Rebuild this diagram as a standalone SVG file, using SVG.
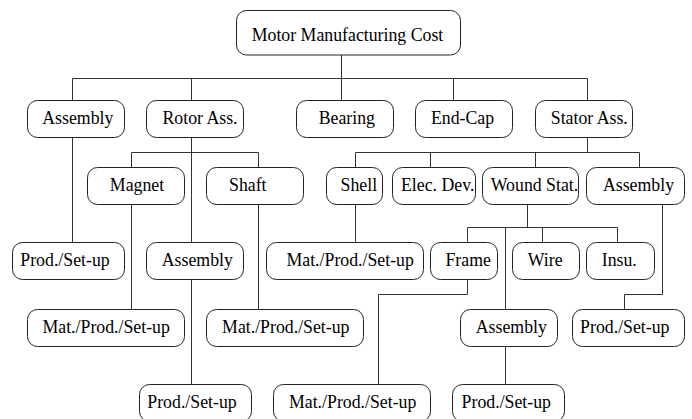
<svg xmlns="http://www.w3.org/2000/svg" width="692" height="419" viewBox="0 0 692 419">
<style>
.n rect{fill:#fff;stroke:#222;stroke-width:1}
.n text{font-family:'Liberation Serif','Times New Roman',Tinos,'DejaVu Serif',serif;font-size:17.8px;fill:#000;text-anchor:middle}
#connectors path{fill:none;stroke:#333;stroke-width:1}
</style>
<rect width="692" height="419" fill="#fff"/>
<g id="connectors">
<path d="M341.5 55 V78.5 M72.5 78.5 H587.5 M72.5 78.5 V100.5 M191.5 78.5 V100.5 M341.5 78.5 V100.5 M453.5 78.5 V100.5 M587.5 78.5 V100.5"/>
<path d="M72.5 137.5 V242.5"/>
<path d="M191.5 137.5 V242.5 M131.5 152.5 H258.5 M131.5 152.5 V167.5 M258.5 152.5 V167.5"/>
<path d="M131.5 204.5 V309.5 M258.5 204.5 V309.5 M191.5 279.5 V384.5"/>
<path d="M587.5 137.5 V152.5 M355.5 152.5 H639.5 M355.5 152.5 V167.5 M430.5 152.5 V167.5 M535.5 152.5 V167.5 M639.5 152.5 V167.5"/>
<path d="M355.5 204.5 V242.5"/>
<path d="M527.5 204.5 V227.5 M467.5 227.5 H617.5 M467.5 227.5 V242.5 M542.5 227.5 V242.5 M617.5 227.5 V242.5 M505.5 227.5 V309.5"/>
<path d="M467.5 279.5 V294.5 H378.5 V384.5"/>
<path d="M662.5 204.5 V294.5 H624.5 V309.5"/>
<path d="M505.5 346.5 V384.5"/>
</g>
<g id="n-root" class="n"><rect x="236.5" y="10.5" width="224" height="44.5" rx="10"/><text x="347.5" y="40.7">Motor Manufacturing Cost</text></g>
<g id="n-assembly" class="n"><rect x="27.5" y="100.5" width="97" height="37" rx="10"/><text x="77.8" y="123.8">Assembly</text></g>
<g id="n-rotor" class="n"><rect x="146.5" y="100.5" width="97" height="37" rx="10"/><text x="200" y="123.8">Rotor Ass.</text></g>
<g id="n-bearing" class="n"><rect x="296.5" y="100.5" width="97" height="37" rx="10"/><text x="346.8" y="123.8">Bearing</text></g>
<g id="n-endcap" class="n"><rect x="415.5" y="100.5" width="97" height="37" rx="10"/><text x="462.5" y="123.8">End-Cap</text></g>
<g id="n-stator" class="n"><rect x="535.5" y="100.5" width="97" height="37" rx="10"/><text x="589.3" y="123.8">Stator Ass.</text></g>
<g id="n-magnet" class="n"><rect x="87.5" y="167.5" width="97" height="37" rx="10"/><text x="137" y="190.8">Magnet</text></g>
<g id="n-shaft" class="n"><rect x="206.5" y="167.5" width="97" height="37" rx="10"/><text x="247.8" y="190.8">Shaft</text></g>
<g id="n-shell" class="n"><rect x="326.5" y="167.5" width="56" height="37" rx="10"/><text x="358.8" y="190.8">Shell</text></g>
<g id="n-elec" class="n"><rect x="392.5" y="167.5" width="83" height="37" rx="10"/><text x="437.7" y="190.8">Elec. Dev.</text></g>
<g id="n-wound" class="n"><rect x="482.5" y="167.5" width="96" height="37" rx="10"/><text x="534.5" y="190.8">Wound Stat.</text></g>
<g id="n-stator-assembly" class="n"><rect x="586.5" y="167.5" width="98" height="37" rx="10"/><text x="638.5" y="190.8">Assembly</text></g>
<g id="n-assembly-prod" class="n"><rect x="12.5" y="242.5" width="112" height="37" rx="10"/><text x="65" y="265.8">Prod./Set-up</text></g>
<g id="n-rotor-assembly" class="n"><rect x="146.5" y="242.5" width="97" height="37" rx="10"/><text x="197.3" y="265.8">Assembly</text></g>
<g id="n-shell-mat" class="n"><rect x="266.5" y="242.5" width="157" height="37" rx="10"/><text x="350.2" y="265.8">Mat./Prod./Set-up</text></g>
<g id="n-frame" class="n"><rect x="430.5" y="242.5" width="67" height="37" rx="10"/><text x="468.2" y="265.8">Frame</text></g>
<g id="n-wire" class="n"><rect x="512.5" y="242.5" width="67" height="37" rx="10"/><text x="545.2" y="265.8">Wire</text></g>
<g id="n-insu" class="n"><rect x="586.5" y="242.5" width="68" height="37" rx="10"/><text x="619.3" y="265.8">Insu.</text></g>
<g id="n-magnet-mat" class="n"><rect x="27.5" y="309.5" width="157" height="37" rx="10"/><text x="106.2" y="332.8">Mat./Prod./Set-up</text></g>
<g id="n-shaft-mat" class="n"><rect x="206.5" y="309.5" width="157" height="37" rx="10"/><text x="285.8" y="332.8">Mat./Prod./Set-up</text></g>
<g id="n-wound-assembly" class="n"><rect x="460.5" y="309.5" width="97" height="37" rx="10"/><text x="511.3" y="332.8">Assembly</text></g>
<g id="n-stator-assembly-prod" class="n"><rect x="572.5" y="309.5" width="112" height="37" rx="10"/><text x="624.8" y="332.8">Prod./Set-up</text></g>
<g id="n-rotor-assembly-prod" class="n"><rect x="139.5" y="384.5" width="112" height="37" rx="10"/><text x="192" y="407.8">Prod./Set-up</text></g>
<g id="n-frame-mat" class="n"><rect x="273.5" y="384.5" width="157" height="37" rx="10"/><text x="352.7" y="407.8">Mat./Prod./Set-up</text></g>
<g id="n-wound-assembly-prod" class="n"><rect x="452.5" y="384.5" width="112" height="37" rx="10"/><text x="506.3" y="407.8">Prod./Set-up</text></g>
</svg>
